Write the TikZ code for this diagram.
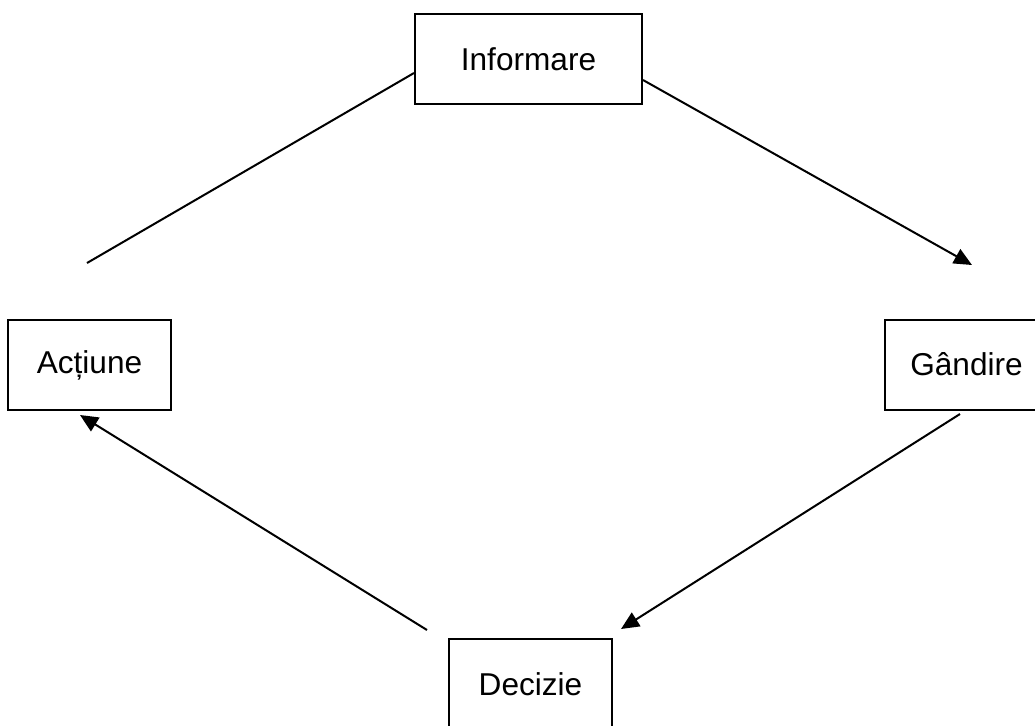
\documentclass[tikz,border=0pt]{standalone}
\usepackage{fontspec}
\setmainfont{Liberation Sans}
\usetikzlibrary{arrows.meta,calc}
\begin{document}
\begin{tikzpicture}[x=0.5pt,y=-0.5pt,
  box/.style={draw,line width=1pt,minimum width=81.5pt,minimum height=45pt,inner sep=0pt,font=\fontsize{15.8}{18}\selectfont},
  link/.style={line width=1pt},
  arr/.style={line width=1pt,-{Triangle[length=9pt,width=8pt]}}]
\useasboundingbox (0,0) rectangle (1035,725);
\node[box,minimum width=113.5pt] (inf) at (528.5,59) {Informare};
\node[box] (act) at (89.5,365) {Acțiune};
\node[box] (gan) at (966.5,364.5) {Gândire};
\node[box] (dec) at (530.5,684) {Decizie};
\coordinate (e1) at (87,263);
\coordinate (e2) at (972,265);
\coordinate (s3) at (960,414);
\coordinate (e3) at (621,629);
\coordinate (s4) at (427,630);
\coordinate (e4) at (80,415);
\draw[link] ($(inf.west)+(0,14)$) -- (e1);
\draw[arr] ($(inf.east)+(0,21)$) -- (e2);
\draw[arr] (s3) -- (e3);
\draw[arr] (s4) -- (e4);
\end{tikzpicture}
\end{document}
